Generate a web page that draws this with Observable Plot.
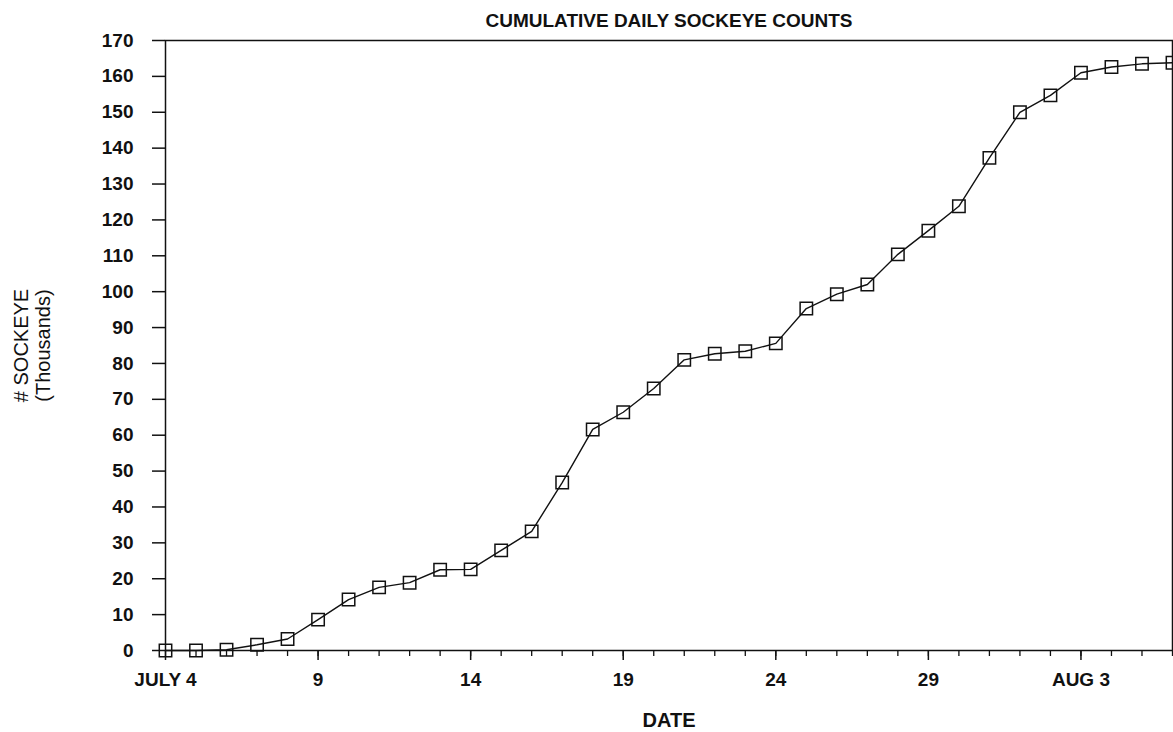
<!DOCTYPE html>
<html>
<head>
<meta charset="utf-8">
<script src="https://cdn.jsdelivr.net/npm/d3@7"></script>
<script src="https://cdn.jsdelivr.net/npm/@observablehq/plot@0.6"></script>
<style>
  body { margin: 0; background: #fff; }
  #chart svg { display: block; }
</style>
</head>
<body>
<div id="chart"></div>
<script>
// Dates (one per day, July 4 to August 6)
const dates = ["Jul 4","Jul 5","Jul 6","Jul 7","Jul 8","Jul 9","Jul 10","Jul 11","Jul 12","Jul 13",
  "Jul 14","Jul 15","Jul 16","Jul 17","Jul 18","Jul 19","Jul 20","Jul 21","Jul 22","Jul 23",
  "Jul 24","Jul 25","Jul 26","Jul 27","Jul 28","Jul 29","Jul 30","Jul 31","Aug 1","Aug 2",
  "Aug 3","Aug 4","Aug 5","Aug 6"];
// Cumulative sockeye counts (thousands)
const counts = [0, 0, 0.2, 1.6, 3.2, 8.6, 14.2, 17.6, 18.9, 22.5,
  22.6, 27.9, 33.2, 46.8, 61.6, 66.4, 73.0, 81.0, 82.7, 83.4,
  85.6, 95.3, 99.3, 102.0, 110.4, 117.0, 123.8, 137.3, 150.0, 154.7,
  161.0, 162.6, 163.5, 163.8];
// Axis ticks
const xMajorDates = ["Jul 4","Jul 9","Jul 14","Jul 19","Jul 24","Jul 29","Aug 3"];
const xMajorLabels = ["JULY 4","9","14","19","24","29","AUG 3"];
const yTicks = [0,10,20,30,40,50,60,70,80,90,100,110,120,130,140,150,160,170];

const data = dates.map((d, i) => ({day: i, date: d, value: counts[i]}));
const allDays = dates.map((d, i) => i);
const majorDays = xMajorDates.map(d => dates.indexOf(d));
const labelOf = new Map(majorDays.map((d, i) => [d, xMajorLabels[i]]));

const font = "'Liberation Sans', Arial, Helvetica, sans-serif";

const chart = Plot.plot({
  width: 1173,
  height: 732,
  marginTop: 40,
  marginBottom: 82,
  marginLeft: 165,
  marginRight: 1,
  style: {fontFamily: font, fontSize: "19px", fontWeight: "bold", color: "#111", background: "#fff"},
  x: {domain: [0, dates.length - 1]},
  y: {domain: [0, 170]},
  marks: [
    Plot.frame({stroke: "#111", strokeWidth: 1.5}),
    Plot.axisY({ticks: yTicks, tickSize: 13, tickPadding: 19, strokeWidth: 1.5, label: null,
      fontSize: 19, fontWeight: "bold"}),
    Plot.axisX({ticks: allDays, tickSize: 6, tickFormat: () => "", strokeWidth: 1.3, label: null}),
    Plot.axisX({ticks: majorDays, tickSize: 10, tickPadding: 12, strokeWidth: 1.5,
      tickFormat: d => labelOf.get(d), label: null, fontSize: 19, fontWeight: "bold"}),
    Plot.line(data, {x: "day", y: "value", stroke: "#111", strokeWidth: 1.4}),
    Plot.dot(data, {x: "day", y: "value", symbol: "square", r: 7, fill: "none", stroke: "#111", strokeWidth: 1.5}),
    Plot.text(["CUMULATIVE DAILY SOCKEYE COUNTS"], {frameAnchor: "top", lineAnchor: "middle", textAnchor: "middle",
      dy: -20, fontSize: 19, fontWeight: "bold"}),
    Plot.text(["DATE"], {frameAnchor: "bottom", lineAnchor: "middle", textAnchor: "middle", dy: 70,
      fontSize: 20, fontWeight: "bold"}),
    Plot.text(["# SOCKEYE"], {frameAnchor: "left", lineAnchor: "middle", textAnchor: "middle", dx: -144, rotate: -90,
      fontSize: 20, fontWeight: "normal"}),
    Plot.text(["(Thousands)"], {frameAnchor: "left", lineAnchor: "middle", textAnchor: "middle", dx: -122, rotate: -90,
      fontSize: 20, fontWeight: "normal"})
  ]
});
document.getElementById("chart").appendChild(chart);
</script>
</body>
</html>
